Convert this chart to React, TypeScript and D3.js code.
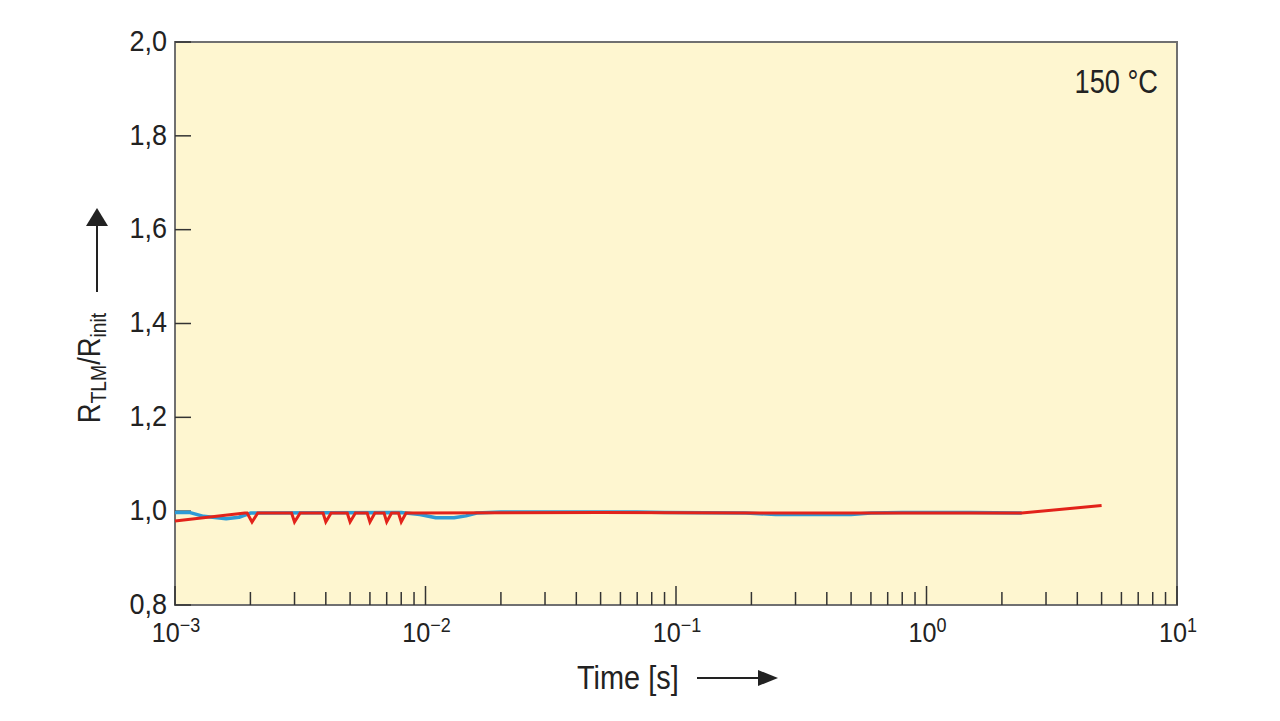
import React from "react";
import * as d3 from "d3";

const xDecades = [-3, -2, -1, 0, 1];
const yTicks = [0.8, 1.0, 1.2, 1.4, 1.6, 1.8, 2.0];
const yTickLabels = ["0,8", "1,0", "1,2", "1,4", "1,6", "1,8", "2,0"];

const redTime = [
  0.001, 0.0019,
  0.00194, 0.00203, 0.00214,
  0.00292, 0.003, 0.00316,
  0.0039, 0.004, 0.0042,
  0.00487, 0.005, 0.00525,
  0.00585, 0.006, 0.00628,
  0.00683, 0.007, 0.00732,
  0.0078, 0.008, 0.00836,
  0.05, 0.3, 1.0, 2.4, 5.0,
];
const redValue = [
  0.979, 0.996,
  0.996, 0.977, 0.996,
  0.996, 0.977, 0.996,
  0.996, 0.977, 0.996,
  0.996, 0.977, 0.996,
  0.996, 0.977, 0.996,
  0.996, 0.977, 0.996,
  0.996, 0.977, 0.996,
  0.997, 0.996, 0.996, 0.996, 1.012,
];

const blueTime = [
  0.001, 0.00115, 0.0013, 0.0016, 0.0018, 0.002, 0.008, 0.0095, 0.011, 0.013,
  0.0145, 0.016, 0.02, 0.07, 0.09, 0.19, 0.25, 0.5, 0.6, 0.8, 1.5, 2.4,
];
const blueValue = [
  0.997, 0.997, 0.989, 0.984, 0.987, 0.996, 0.997, 0.993, 0.986, 0.986,
  0.99, 0.996, 0.998, 0.998, 0.997, 0.996, 0.993, 0.993, 0.996, 0.997, 0.997, 0.996,
];

const FONT = "'Liberation Sans', Arial, 'Roboto', sans-serif";

export default function App() {
  const left = 175, right = 1177, top = 42, bottom = 605;
  const x = d3.scaleLog().domain([1e-3, 1e1]).range([left, right]);
  const y = d3.scaleLinear().domain([0.8, 2.0]).range([bottom, top]);

  const line = d3
    .line<[number, number]>()
    .x((d) => x(d[0]))
    .y((d) => y(d[1]));

  const red: [number, number][] = redTime.map((t, i) => [t, redValue[i]]);
  const blue: [number, number][] = blueTime.map((t, i) => [t, blueValue[i]]);

  const minor: number[] = [];
  for (let e = -3; e < 1; e++) {
    for (let m = 2; m <= 9; m++) minor.push(m * Math.pow(10, e));
  }

  return (
    <svg
      width={1280}
      height={721}
      style={{ position: "absolute", left: 0, top: 0, background: "#fff" }}
      fontFamily={FONT}
    >
      <rect x={0} y={0} width={1280} height={721} fill="#fff" />
      <rect
        x={left}
        y={top}
        width={right - left}
        height={bottom - top}
        fill="#FEF6D0"
        stroke="#707070"
        strokeWidth={2}
      />

      {/* y ticks */}
      {yTicks.map((v, i) => (
        <g key={"y" + i}>
          <line x1={left} x2={left + 16} y1={y(v)} y2={y(v)} stroke="#333" strokeWidth={1.5} />
          <text
            transform={`translate(167,${y(v) - 2}) scale(0.9,1)`}
            dy="0.36em"
            textAnchor="end"
            fontSize={30}
            fill="#222"
          >
            {yTickLabels[i]}
          </text>
        </g>
      ))}

      {/* x ticks */}
      {minor.map((t, i) => (
        <line key={"m" + i} x1={x(t)} x2={x(t)} y1={bottom} y2={bottom - 13} stroke="#333" strokeWidth={1.5} />
      ))}
      {xDecades.map((e) => (
        <g key={"d" + e}>
          <line x1={x(Math.pow(10, e))} x2={x(Math.pow(10, e))} y1={bottom} y2={bottom - 19} stroke="#333" strokeWidth={1.5} />
          <text
            transform={`translate(${x(Math.pow(10, e)) + 1},642) scale(0.9,1)`}
            textAnchor="middle"
            fontSize={28}
            fill="#222"
          >
            <tspan>10</tspan>
            <tspan dy={-10} fontSize={20}>{e < 0 ? "\u2212" + Math.abs(e) : String(e)}</tspan>
          </text>
        </g>
      ))}

      {/* series */}
      <path d={line(blue) || ""} fill="none" stroke="#2E9BD6" strokeWidth={3.5} strokeLinejoin="round" />
      <path d={line(red) || ""} fill="none" stroke="#E2231A" strokeWidth={3} strokeLinejoin="miter" />

      {/* annotation */}
      <text transform="translate(1158,93) scale(0.8,1)" textAnchor="end" fontSize={34} fill="#222">150 °C</text>

      {/* x title */}
      <text transform="translate(577,689) scale(0.85,1)" fontSize={34} fill="#222">Time [s]</text>
      <line x1={697} x2={762} y1={678} y2={678} stroke="#222" strokeWidth={2} />
      <path d="M758,670 L778,678 L758,686 Z" fill="#222" />

      {/* y title */}
      <text transform="translate(100,368) rotate(-90) scale(0.88,1)" textAnchor="middle" fontSize={31} fill="#222">
        <tspan>R</tspan>
        <tspan fontSize={22} dy={6}>TLM</tspan>
        <tspan dy={-6}>/R</tspan>
        <tspan fontSize={22} dy={6}>init</tspan>
      </text>
      <line x1={97} x2={97} y1={292} y2={222} stroke="#222" strokeWidth={2} />
      <path d="M86,226 L97,208 L108,226 Z" fill="#222" />
    </svg>
  );
}
